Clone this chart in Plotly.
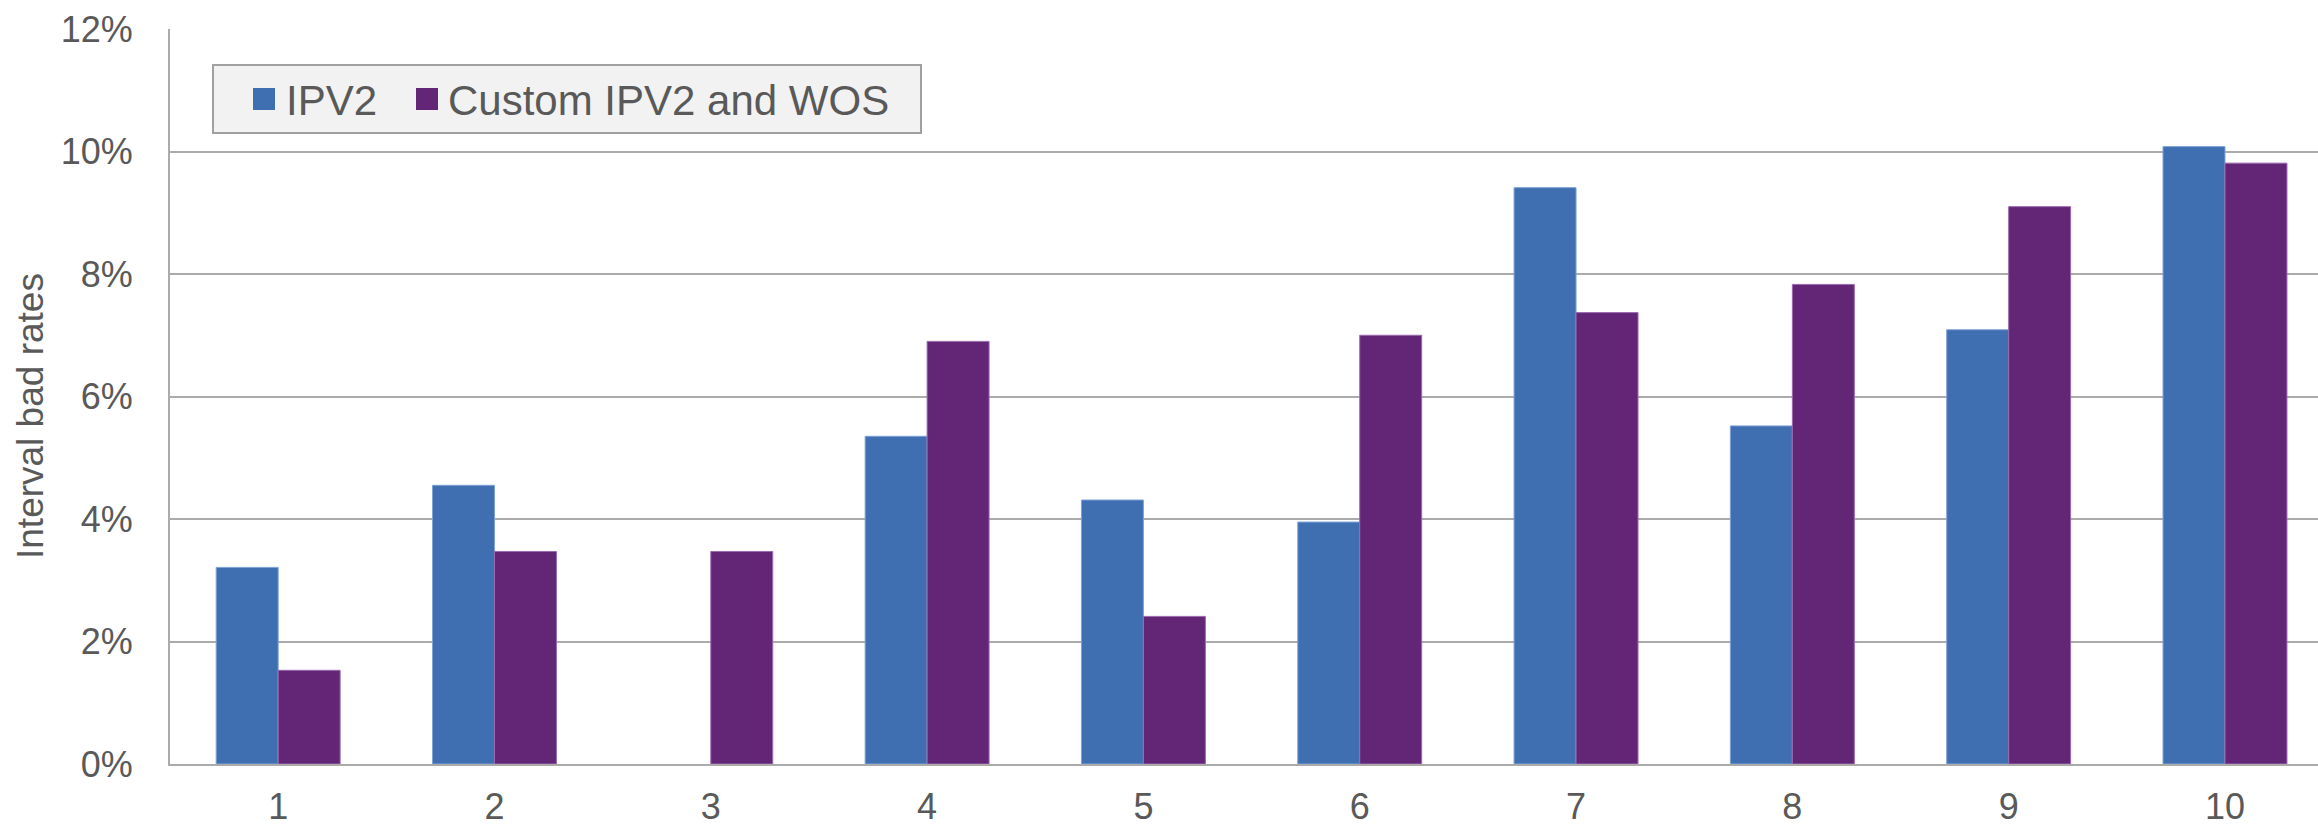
import plotly.graph_objects as go

# Interval bad rates by score interval (no IPV2 value in interval 3)
intervals = ["1", "2", "3", "4", "5", "6", "7", "8", "9", "10"]
ipv2 = [3.21, 4.55, None, 5.35, 4.31, 3.95, 9.41, 5.52, 7.09, 10.08]
custom_ipv2_wos = [1.53, 3.47, 3.47, 6.90, 2.41, 7.00, 7.37, 7.83, 9.10, 9.81]
series_names = ["IPV2", "Custom IPV2 and WOS"]
y_ticks = [0, 2, 4, 6, 8, 10, 12]
y_title = "Interval bad rates"

W, H = 2318, 825
ML, MR, MT, MB = 170, 0, 29, 61
PW, PH = W - ML - MR, H - MT - MB

BLUE = "#3F6FB1"
PURPLE = "#632677"
TEXT = "#595959"
GRID = "#ABABAB"
FONT = "Liberation Sans, Arial, sans-serif"


def px_x(p):
    return (p - ML) / PW


def px_y(p):
    return (H - MB - p) / PH


fig = go.Figure()
fig.add_trace(go.Bar(x=intervals, y=ipv2, name=series_names[0],
                     marker=dict(color=BLUE, line=dict(color="#7FA3D6", width=1))))
fig.add_trace(go.Bar(x=intervals, y=custom_ipv2_wos, name=series_names[1],
                     marker=dict(color=PURPLE, line=dict(color="#9A6AAE", width=1))))

# Legend box drawn as shapes + text
shapes = [
    dict(type="rect", xref="paper", yref="paper",
         x0=px_x(213), x1=px_x(921), y0=px_y(133), y1=px_y(65),
         fillcolor="#F2F2F2", line=dict(color="#A0A0A0", width=2), layer="above"),
    dict(type="rect", xref="paper", yref="paper",
         x0=px_x(253), x1=px_x(275), y0=px_y(110), y1=px_y(88),
         fillcolor=BLUE, line=dict(width=0), layer="above"),
    dict(type="rect", xref="paper", yref="paper",
         x0=px_x(416), x1=px_x(438), y0=px_y(110), y1=px_y(88),
         fillcolor=PURPLE, line=dict(width=0), layer="above"),
]
annotations = [
    dict(text=series_names[0], xref="paper", yref="paper", x=px_x(284), y=px_y(101),
         xanchor="left", yanchor="middle", showarrow=False,
         font=dict(family=FONT, size=42, color=TEXT)),
    dict(text=series_names[1], xref="paper", yref="paper", x=px_x(446), y=px_y(101),
         xanchor="left", yanchor="middle", showarrow=False,
         font=dict(family=FONT, size=42, color=TEXT)),
    dict(text=y_title, xref="paper", yref="paper", x=px_x(30), y=px_y(416),
         xanchor="center", yanchor="middle", textangle=-90, showarrow=False,
         font=dict(family=FONT, size=37, color=TEXT)),
]

fig.update_layout(
    width=W, height=H,
    margin=dict(l=ML, r=MR, t=MT, b=MB, pad=0, autoexpand=False),
    paper_bgcolor="white", plot_bgcolor="white",
    barmode="group", bargap=0.427, bargroupgap=0,
    showlegend=False,
    font=dict(family=FONT, size=36, color=TEXT),
    shapes=shapes, annotations=annotations,
)
fig.update_xaxes(
    type="category", range=[-0.5, 9.43], automargin=False,
    showline=True, linecolor=GRID, linewidth=2,
    showgrid=False, ticks="", ticklabelstandoff=10,
    tickfont=dict(family=FONT, size=36, color=TEXT),
)
fig.update_yaxes(
    range=[0, 12], tickvals=y_ticks, ticktext=[f"{v}%" for v in y_ticks],
    automargin=False,
    showline=True, linecolor=GRID, linewidth=2,
    showgrid=True, gridcolor=GRID, gridwidth=1.5,
    zeroline=False, ticks="", ticklabelstandoff=28,
    tickfont=dict(family=FONT, size=36, color=TEXT),
)

fig.write_html("out.html")
